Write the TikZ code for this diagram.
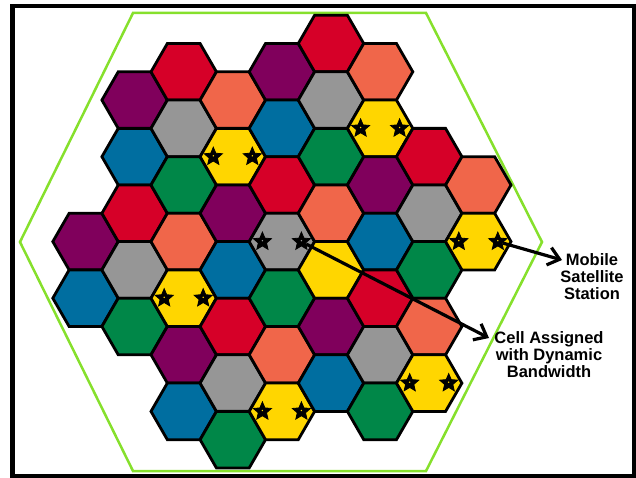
\documentclass[tikz,border=0pt]{standalone}
\usepackage{fontspec}
\setmainfont{Liberation Sans}
\usetikzlibrary{shapes.geometric, arrows.meta}
\definecolor{cred}{RGB}{214,0,40}
\definecolor{cpurple}{RGB}{128,0,92}
\definecolor{corange}{RGB}{240,102,74}
\definecolor{cgray}{RGB}{150,150,150}
\definecolor{cblue}{RGB}{0,110,160}
\definecolor{cgreen}{RGB}{0,135,72}
\definecolor{cyellow}{RGB}{255,214,0}
\definecolor{zonegreen}{RGB}{134,224,44}

\begin{document}
\begin{tikzpicture}[
  x=1pt, y=-1pt,
  cell/.style={regular polygon, regular polygon sides=6, minimum size=65.4pt,
    inner sep=0pt, outer sep=0pt, draw=black, line width=2.8pt},
  mstar/.style={star, star points=5, star point ratio=2.2, minimum size=19pt,
    inner sep=0pt, fill=black, draw=black, line width=0.8pt,
    path picture={\fill[#1] (path picture bounding box.center) circle (0.8pt);}},
  zone/.style={zonegreen, line width=2.5pt},
  pointer/.style={-{Straight Barb[length=11pt,width=18pt]}, line width=3.2pt},
  callout/.style={font=\bfseries\fontsize{16.5}{17}\selectfont, align=center, inner sep=0pt},
]
  \useasboundingbox (0,0) rectangle (636,478);
  % Frame and coverage zone
  \draw[line width=4.5pt] (12.5,6) rectangle (634,476);
  \draw[zone] (133,13) -- (426,13) -- (542,242) -- (426,471) -- (133,471) -- (20,242) -- cycle;
  % Cells: column / half-row / colour
  \foreach \i/\k/\col in {
      0/7/cpurple, 0/9/cblue,
      1/2/cpurple, 1/4/cblue, 1/6/cred, 1/8/cgray, 1/10/cgreen,
      2/1/cred, 2/3/cgray, 2/5/cgreen, 2/7/corange, 2/9/cyellow, 2/11/cpurple, 2/13/cblue,
      3/2/corange, 3/4/cyellow, 3/6/cpurple, 3/8/cblue, 3/10/cred, 3/12/cgray, 3/14/cgreen,
      4/1/cpurple, 4/3/cblue, 4/5/cred, 4/7/cgray, 4/9/cgreen, 4/11/corange, 4/13/cyellow,
      5/0/cred, 5/2/cgray, 5/4/cgreen, 5/6/corange, 5/8/cyellow, 5/10/cpurple, 5/12/cblue,
      6/1/corange, 6/3/cyellow, 6/5/cpurple, 6/7/cblue, 6/9/cred, 6/11/cgray, 6/13/cgreen,
      7/4/cred, 7/6/cgray, 7/8/cgreen, 7/10/corange, 7/12/cyellow,
      8/5/corange, 8/7/cyellow}
    \node[cell, fill=\col] (c\i-\k) at ({85.5+49.1*\i}, {43.5+28.3*\k}) {};
  % Mobile satellite stations, two per cell
  \foreach \i/\k/\col in {2/9/cyellow, 3/4/cyellow, 4/7/cgray, 4/13/cyellow,
      6/3/cyellow, 7/12/cyellow, 8/7/cyellow} {
    \node[mstar=\col] (s\i-\k-a) at ([xshift=-19.5pt]c\i-\k.center) {};
    \node[mstar=\col] (s\i-\k-b) at ([xshift=19.5pt]c\i-\k.center) {};
  }
  % Labels
  \node[callout] (mobtxt) at (592,277) {Mobile\\Satellite\\Station};
  \node[callout] (celltxt) at (549,355) {Cell Assigned\\with Dynamic\\Bandwidth};
  \coordinate (mobtip) at (562,260);
  \coordinate (celltip) at (489,338);
  % Pointers
  \draw[pointer] (s8-7-b) -- (mobtip);
  \draw[pointer] (s4-7-b) -- (celltip);
\end{tikzpicture}
\end{document}
